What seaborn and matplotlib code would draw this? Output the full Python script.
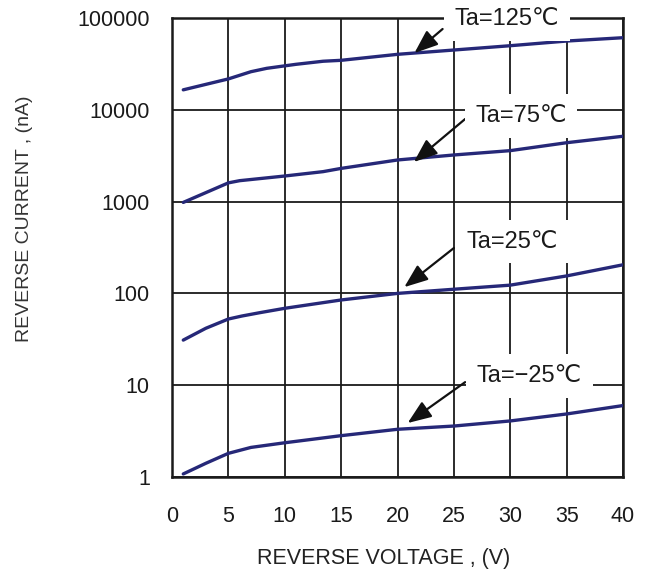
import matplotlib
matplotlib.use('Agg')
import matplotlib.pyplot as plt
import numpy as np
import pandas as pd
import seaborn as sns

# ── data ─────────────────────────────────────────────────────────────────────
volts = [1, 5, 7, 8.4, 11, 13.4, 15, 20, 25, 30, 35, 40]
i_125 = [16500, 21700, 26000, 28300, 31300, 33800, 34600, 40200, 44800, 49900, 56100, 61000]

volts_75 = [1, 5, 6, 10, 13.4, 15, 20, 25, 30, 35, 40]
i_75 = [980, 1600, 1690, 1900, 2120, 2300, 2840, 3220, 3590, 4380, 5150]

volts_25 = [1, 3, 5, 6.2, 7.8, 10, 15, 20, 25, 30, 35, 40]
i_25 = [31, 41.7, 52.6, 56.7, 61.7, 68.8, 84.8, 100, 111, 123, 155, 205]

volts_m25 = [1, 3, 5, 7, 10, 15, 20, 25, 30, 35, 40]
i_m25 = [1.08, 1.41, 1.81, 2.1, 2.36, 2.82, 3.31, 3.59, 4.08, 4.86, 6.0]

labels = ['Ta=125℃', 'Ta=75℃', 'Ta=25℃', 'Ta=−25℃']
x_ticks = [0, 5, 10, 15, 20, 25, 30, 35, 40]
y_ticks = [1, 10, 100, 1000, 10000, 100000]
y_ticklabels = ['1', '10', '100', '1000', '10000', '100000']

# annotation layout: (text x, text y, arrow tail, arrow head) in data units
ANNOT = {
    'Ta=125℃': ((29.7, 97500), (24.0, 75900), (21.5, 41500)),
    'Ta=75℃':  ((30.95, 8560), (26.0, 7940), (21.45, 2700)),
    'Ta=25℃':  ((30.2, 366), (25.0, 312), (20.6, 117)),
    'Ta=−25℃': ((31.7, 12.6), (26.0, 10.8), (20.9, 3.87)),
}

LINE = '#262878'

df = pd.concat([
    pd.DataFrame({'V': volts, 'I': i_125, 'Ta': labels[0]}),
    pd.DataFrame({'V': volts_75, 'I': i_75, 'Ta': labels[1]}),
    pd.DataFrame({'V': volts_25, 'I': i_25, 'Ta': labels[2]}),
    pd.DataFrame({'V': volts_m25, 'I': i_m25, 'Ta': labels[3]}),
])

sns.set_style('white')
plt.rcParams['font.family'] = ['Liberation Sans', 'DejaVu Sans']

fig = plt.figure(figsize=(6.54, 5.76), dpi=100)
ax = fig.add_axes([172 / 654, 1 - 477 / 576, 451 / 654, 459 / 576])

sns.lineplot(data=df, x='V', y='I', hue='Ta', palette=[LINE] * 4,
             legend=False, linewidth=2.4, ax=ax, zorder=3)

ax.set_yscale('log')
ax.set_xlim(0, 40)
ax.set_ylim(1, 100000)
ax.set_xticks(x_ticks)
ax.set_xticklabels([str(t) for t in x_ticks])
ax.set_yticks(y_ticks)
ax.set_yticklabels(y_ticklabels)
ax.minorticks_off()
ax.tick_params(axis='both', length=0, labelsize=15.5, colors='#1a1a1a')
ax.tick_params(axis='x', pad=21)
ax.tick_params(axis='y', pad=16)

ax.grid(True, color='#1a1a1a', linewidth=1.3)
ax.set_axisbelow(True)
for sp in ax.spines.values():
    sp.set_color('#1a1a1a')
    sp.set_linewidth(1.8)

ax.set_xlabel('REVERSE VOLTAGE , (V)', fontsize=15.5, color='#222222')
ax.set_ylabel('REVERSE CURRENT , (nA)', fontsize=14, color='#333333')
ax.xaxis.set_label_coords((384 - 172) / 451, -(548 - 477) / 459)
ax.yaxis.set_label_coords(-(172 - 33) / 451, (477 - 219) / 459)

for lab, (txt, tail, head) in ANNOT.items():
    ax.annotate('', xy=head, xytext=tail,
                arrowprops=dict(arrowstyle='-|>,head_length=0.9,head_width=0.35',
                                mutation_scale=16, color='#111111', lw=1.6,
                                shrinkA=0, shrinkB=0),
                zorder=5)
    ax.text(txt[0], txt[1], lab, ha='center', va='center', fontsize=17,
            color='#1a1a1a', zorder=6,
            bbox=dict(boxstyle='square,pad=0.45', fc='white', ec='none'))

fig.savefig('out.png', dpi=100)
